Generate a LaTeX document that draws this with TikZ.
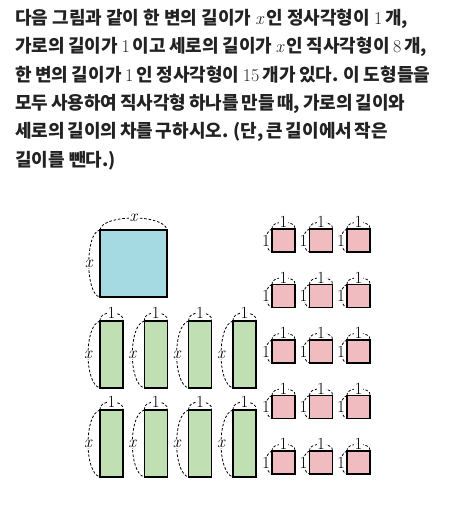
\documentclass[tikz,border=0pt]{standalone}
\usepackage{fontspec}
\newfontfamily\kr{Noto Sans CJK KR}
\newfontfamily\lmr{Latin Modern Roman}
\newcommand{\vx}{{\lmr\mdseries\itshape x}}
\newcommand{\nm}[1]{{\lmr\mdseries\upshape #1}}
\definecolor{txt}{HTML}{222222}
\definecolor{sqblue}{HTML}{A6DAE3}
\definecolor{recgreen}{HTML}{C0DFB2}
\definecolor{sqpink}{HTML}{F1BCBF}
\tikzset{
  line/.style={font=\kr\bfseries\fontsize{18}{20}\selectfont, text=txt, anchor=base west, inner sep=0pt},
  shapebox/.style={draw=black, line width=1.5pt, anchor=north west, inner sep=0pt, outer sep=0pt},
  bigsq/.style={shapebox, fill=sqblue, minimum width=67pt, minimum height=67pt},
  longrec/.style={shapebox, fill=recgreen, minimum width=23pt, minimum height=67pt},
  unitsq/.style={shapebox, fill=sqpink, minimum width=23pt, minimum height=23pt},
  dim/.style={dash pattern=on 2.6pt off 1.8pt, line width=0.8pt},
  lab/.style={font=\fontsize{17}{17}\selectfont, fill=white, inner sep=0.6pt}
}
\begin{document}
\begin{tikzpicture}[x=1pt,y=-1pt]
\useasboundingbox (0,0) rectangle (452,513);
% text
\node[line] (t1) at (15,24.5) {\makebox[393pt][s]{다음 그림과 같이 한 변의 길이가 \vx\,인 정사각형이 \nm{1}\,개,}};
\node[line] (t2) at (15,52.8) {\makebox[412pt][s]{가로의 길이가 \nm{1}\,이고 세로의 길이가 \vx\,인 직사각형이 \nm{8}\,개,}};
\node[line] (t3) at (15,81.2) {\makebox[415pt][s]{한 변의 길이가 \nm{1}\,인 정사각형이 \nm{15}\,개가 있다. 이 도형들을}};
\node[line] (t4) at (15,109.5) {\makebox[390pt][s]{모두 사용하여 직사각형 하나를 만들 때, 가로의 길이와}};
\node[line] (t5) at (15,137.9) {\makebox[372pt][s]{세로의 길이의 차를 구하시오. (단, 큰 길이에서 작은}};
\node[line] (t6) at (15,166.2) {길이를 뺀다.)};
% big square
\node[bigsq] (S) at (100,230) {};
\draw[dim] (S.north west) .. controls +(2,-16) and +(-2,-16) .. node[lab]{\vx} (S.north east);
\draw[dim] (S.north west) .. controls +(-15,2) and +(-15,-2) .. node[lab]{\vx} (S.south west);
% green rectangles
\foreach \i/\xx/\yy in {1/100/321, 2/144.3/321, 3/188.6/321, 4/233/321, 5/100/410, 6/144.3/410, 7/188.6/410, 8/233/410}{
  \node[longrec] (g\i) at (\xx,\yy) {};
  \draw[dim] (g\i.north west) .. controls +(-2,-11) and +(2,-11) .. node[lab]{\nm{1}} (g\i.north east);
  \draw[dim] (g\i.north west) .. controls +(-16,4) and +(-16,-4) .. node[lab]{\vx} (g\i.south west);
}
% pink squares
\foreach \r/\yy in {1/229, 2/284.5, 3/340, 4/395.5, 5/451}{
  \foreach \c/\xx in {1/272, 2/309.5, 3/347}{
    \node[unitsq] (p\r\c) at (\xx,\yy) {};
    \draw[dim] (p\r\c.north west) .. controls +(-2,-9) and +(2,-9) .. node[lab]{\nm{1}} (p\r\c.north east);
    \draw[dim] (p\r\c.north west) .. controls +(-8,2) and +(-8,-2) .. node[lab]{\nm{1}} (p\r\c.south west);
  }
}
\end{tikzpicture}
\end{document}
